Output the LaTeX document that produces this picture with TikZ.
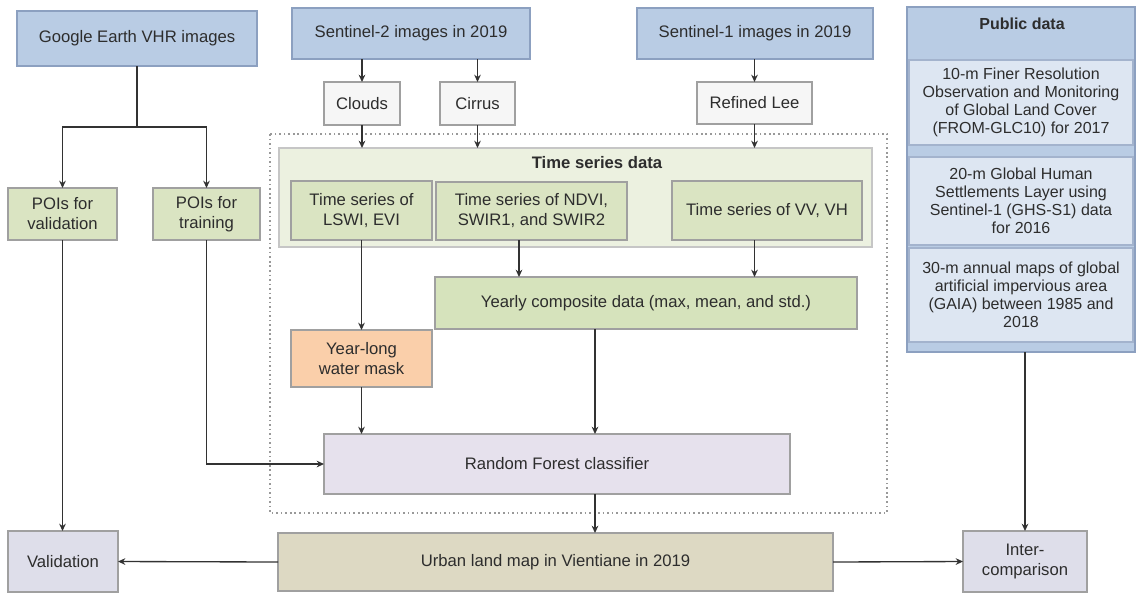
\documentclass[tikz,border=0pt]{standalone}
\usepackage{fontspec}
\setmainfont{Liberation Sans}
\usetikzlibrary{arrows.meta}
\definecolor{blueF}{RGB}{185,204,228}
\definecolor{blueD}{RGB}{140,160,192}
\definecolor{pubL}{RGB}{221,230,242}
\definecolor{greyF}{RGB}{246,246,246}
\definecolor{tsdF}{RGB}{236,241,224}
\definecolor{greenF}{RGB}{218,228,194}
\definecolor{yearF}{RGB}{214,227,188}
\definecolor{waterF}{RGB}{250,207,170}
\definecolor{rfF}{RGB}{230,225,237}
\definecolor{urbanF}{RGB}{221,217,195}
\definecolor{validF}{RGB}{222,222,234}
\definecolor{bord}{RGB}{160,160,160}
\definecolor{txt}{RGB}{45,45,45}
\definecolor{lineC}{RGB}{50,50,50}
\newcommand{\fs}{\fontsize{12.5}{15}\selectfont}
\newcommand{\fsp}{\fontsize{12}{13.6}\selectfont}
\newcommand{\bx}[7]{\node[#2, minimum width={(#4-(#3))*0.75pt}, minimum height={(#6-(#5))*0.75pt}] (#1) at ({(#3+#4)/2},{(#5+#6)/2}) {#7};}
\tikzset{
  box/.style={draw=bord, line width=0.8pt, align=center, text=txt, font=\fs, inner sep=0pt, outer sep=0pt},
  bluebox/.style={box, fill=blueF, draw=blueD},
  greybox/.style={box, fill=greyF},
  tsdbox/.style={box, fill=tsdF, draw=bord!60},
  greenbox/.style={box, fill=greenF},
  yearbox/.style={box, fill=yearF},
  waterbox/.style={box, fill=waterF},
  rfbox/.style={box, fill=rfF},
  urbanbox/.style={box, fill=urbanF},
  validbox/.style={box, fill=validF},
  publight/.style={box, fill=pubL, draw=blueD!80, font=\fsp},
  conn/.style={draw=lineC, line width=1pt},
  arr/.style={conn, -{Stealth[length=5.5pt,width=5pt]}},
  dotbox/.style={draw=gray!80, line width=0.9pt, dash pattern=on 1.2pt off 2.2pt}
}
\begin{document}
\begin{tikzpicture}[x=0.75pt,y=-0.75pt]
\useasboundingbox (0,0) rectangle (1137,594);
% dotted region
\draw[dotbox] (270,134) rectangle (887,513);
% top row
\bx{google}{bluebox}{17}{257}{11}{66}{Google Earth VHR images}
\bx{s2}{bluebox}{292}{530}{8}{59}{Sentinel-2 images in 2019}
\bx{s1}{bluebox}{637}{873}{8}{59}{Sentinel-1 images in 2019}
% public data
\bx{public}{bluebox}{907}{1135}{7}{352}{}
\node[font=\bfseries\fsp, text=txt] (pubtitle) at (1022,24) {Public data};
\bx{pub1}{publight}{909}{1133}{60}{145}{10-m Finer Resolution\\Observation and Monitoring\\of Global Land Cover\\(FROM-GLC10) for 2017}
\bx{pub2}{publight}{909}{1133}{157}{245}{20-m Global Human\\Settlements Layer using\\Sentinel-1 (GHS-S1) data\\for 2016}
\bx{pub3}{publight}{909}{1133}{248}{342}{30-m annual maps of global\\artificial impervious area\\(GAIA) between 1985 and\\2018}
% second row
\bx{clouds}{greybox}{324}{400}{82}{125}{Clouds}
\bx{cirrus}{greybox}{440}{515}{82}{125}{Cirrus}
\bx{lee}{greybox}{697}{812}{82}{124}{Refined Lee}
% time series
\bx{tsd}{tsdbox}{279}{872}{148}{247}{}
\node[font=\bfseries\fs, text=txt] (tsdtitle) at (597,163) {Time series data};
\bx{lswi}{greenbox}{291}{432}{181}{240}{Time series of\\LSWI, EVI}
\bx{ndvi}{greenbox}{436}{627}{182}{240}{Time series of NDVI,\\SWIR1, and SWIR2}
\bx{vv}{greenbox}{672}{862}{181}{240}{Time series of VV, VH}
\bx{poiv}{greenbox}{8}{117}{188}{240}{POIs for\\validation}
\bx{poit}{greenbox}{153}{260}{188}{240}{POIs for\\training}
\bx{yearly}{yearbox}{435}{857}{277}{329}{Yearly composite data (max, mean, and std.)}
\bx{water}{waterbox}{291}{432}{330}{387}{Year-long\\water mask}
\bx{rf}{rfbox}{324}{790}{434}{494}{Random Forest classifier}
\bx{urban}{urbanbox}{278}{833}{533}{591}{Urban land map in Vientiane in 2019}
\bx{valid}{validbox}{8}{118}{531}{592}{Validation}
\bx{inter}{validbox}{963}{1087}{531}{592}{Inter-\\comparison}
% helper coordinates
\coordinate (gbranch) at (137,127);
\coordinate (ndx) at (519,0);
\coordinate (yx) at (595,0);
% connectors
\draw[conn] (google.south) -- (gbranch);
\draw[arr] (gbranch) -| (poiv.north);
\draw[arr] (gbranch) -| (poit.north);
\draw[arr] (poiv.south) -- (poiv.south |- valid.north);
\draw[arr] (poit.south) |- (rf.west);
\draw[arr] (clouds.north |- s2.south) -- (clouds.north);
\draw[arr] (cirrus.north |- s2.south) -- (cirrus.north);
\draw[arr] (lee.north |- s1.south) -- (lee.north);
\draw[arr] (clouds.south) -- (clouds.south |- tsd.north);
\draw[arr] (cirrus.south) -- (cirrus.south |- tsd.north);
\draw[arr] (lee.south) -- (lee.south |- tsd.north);
\draw[arr] (lswi.south) -- (water.north);
\draw[arr] (water.south) -- (water.south |- rf.north);
\draw[arr] (ndx |- ndvi.south) -- (ndx |- yearly.north);
\draw[arr] (lee.south |- vv.south) -- (lee.south |- yearly.north);
\draw[arr] (yx |- yearly.south) -- (yx |- rf.north);
\draw[arr] (yx |- rf.south) -- (yx |- urban.north);
\draw[arr] (urban.west) -- (valid.east);
\draw[arr] (urban.east) -- (inter.west);
\draw[arr] (inter.north |- public.south) -- (inter.north);
\end{tikzpicture}
\end{document}
